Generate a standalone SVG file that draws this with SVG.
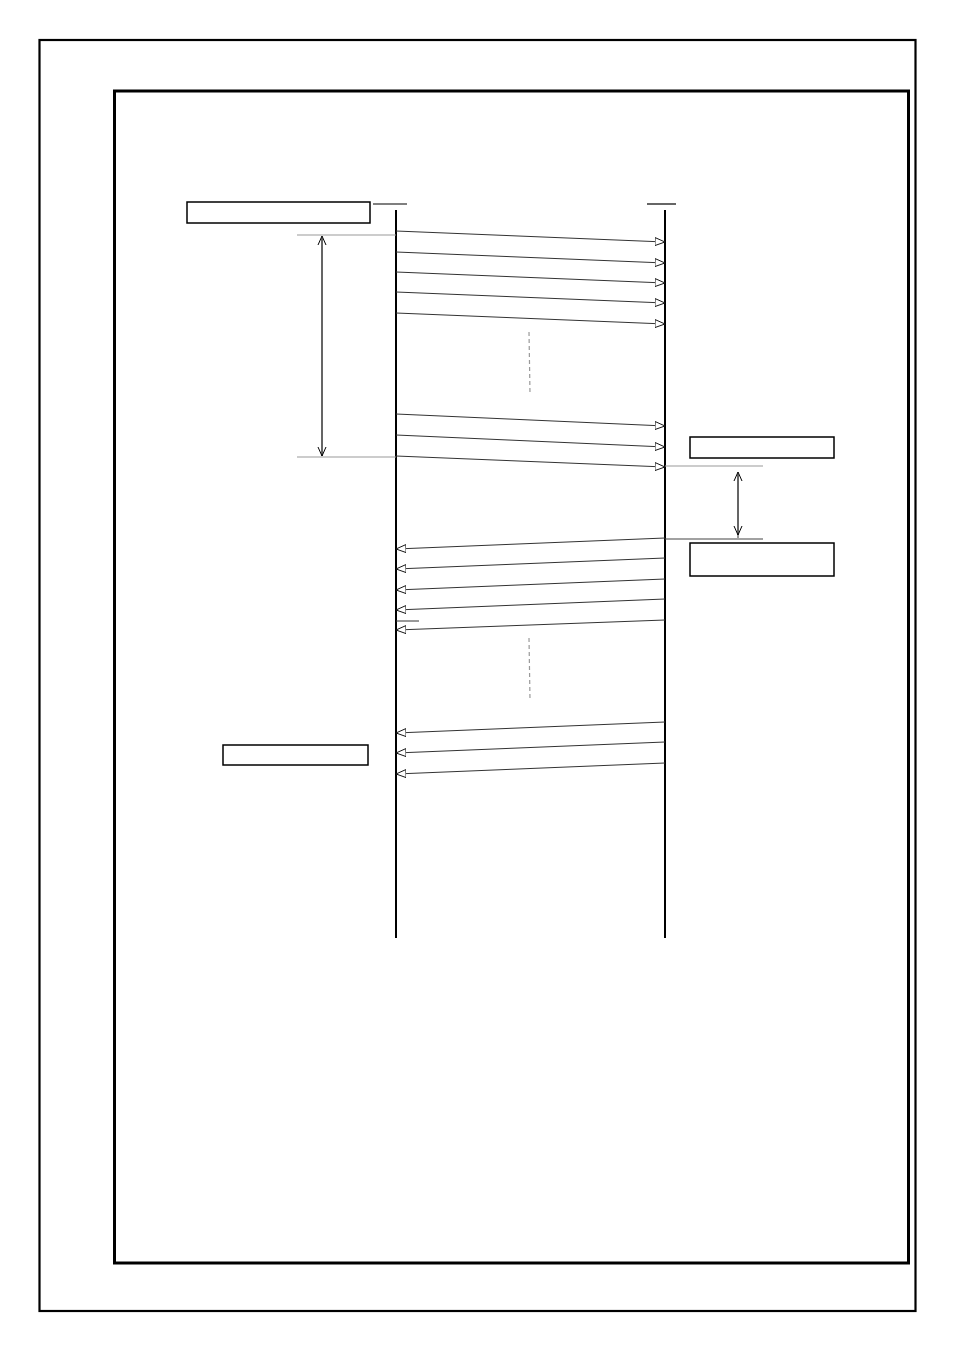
<svg xmlns="http://www.w3.org/2000/svg" width="954" height="1351" viewBox="0 0 954 1351">
<style>
.frame{fill:none;stroke:#000}
.box{fill:#fff;stroke:#000;stroke-width:1.5}
.life{stroke:#000;stroke-width:2}
.msg{stroke:#333;stroke-width:1;fill:none}
.guide{stroke:#999;stroke-width:1.2}
.dim{stroke:#333;stroke-width:1;fill:none}
.dash{stroke:#999;stroke-width:1.2;stroke-dasharray:4,3}
</style>
<defs>
<marker id="tri" markerWidth="12" markerHeight="10" refX="10" refY="5" orient="auto" markerUnits="userSpaceOnUse">
<path d="M0,1 L10,5 L0,9 Z" fill="#fff" stroke="#000" stroke-width="0.9"/>
</marker>
<marker id="open" markerWidth="12" markerHeight="10" refX="9" refY="5" orient="auto" markerUnits="userSpaceOnUse">
<path d="M0,1 L9,5 L0,9" fill="none" stroke="#000" stroke-width="1"/>
</marker>
</defs>
<rect width="954" height="1351" fill="#fff"/>
<rect class="frame" x="39.5" y="40" width="876" height="1271" stroke-width="2.2"/>
<rect class="frame" x="114.5" y="91" width="794" height="1172" stroke-width="3"/>
<g id="lifeline-left">
<line x1="373" y1="204" x2="407" y2="204" stroke="#000" stroke-width="1.2"/>
<line class="life" x1="396" y1="210" x2="396" y2="938"/>
</g>
<g id="lifeline-right">
<line x1="647" y1="204" x2="676" y2="204" stroke="#000" stroke-width="1.2"/>
<line class="life" x1="665" y1="210" x2="665" y2="938" stroke="#444"/>
</g>
<g id="box-top-left"><rect class="box" x="187" y="202" width="183" height="21"/></g>
<g id="box-right-1"><rect class="box" x="690" y="437" width="144" height="21"/></g>
<g id="box-right-2"><rect class="box" x="690" y="543" width="144" height="33"/></g>
<g id="box-bottom-left"><rect class="box" x="223" y="745" width="145" height="20"/></g>
<g id="connectors">
<line class="msg" x1="396" y1="231" x2="665" y2="242" marker-end="url(#tri)"/>
<line class="msg" x1="396" y1="252" x2="665" y2="263" marker-end="url(#tri)"/>
<line class="msg" x1="396" y1="272" x2="665" y2="283" marker-end="url(#tri)"/>
<line class="msg" x1="396" y1="292" x2="665" y2="303" marker-end="url(#tri)"/>
<line class="msg" x1="396" y1="313" x2="665" y2="324" marker-end="url(#tri)"/>
<line class="msg" x1="396" y1="414" x2="665" y2="426" marker-end="url(#tri)"/>
<line class="msg" x1="396" y1="435" x2="665" y2="447" marker-end="url(#tri)"/>
<line class="msg" x1="396" y1="456" x2="665" y2="467" marker-end="url(#tri)"/>
<line class="msg" x1="665" y1="538" x2="396" y2="549" marker-end="url(#tri)"/>
<line class="msg" x1="665" y1="558" x2="396" y2="569" marker-end="url(#tri)"/>
<line class="msg" x1="665" y1="579" x2="396" y2="590" marker-end="url(#tri)"/>
<line class="msg" x1="665" y1="599" x2="396" y2="610" marker-end="url(#tri)"/>
<line class="msg" x1="665" y1="620" x2="396" y2="630" marker-end="url(#tri)"/>
<line class="msg" x1="665" y1="722" x2="396" y2="733" marker-end="url(#tri)"/>
<line class="msg" x1="665" y1="742" x2="396" y2="753" marker-end="url(#tri)"/>
<line class="msg" x1="665" y1="763" x2="396" y2="774" marker-end="url(#tri)"/>
<line x1="396" y1="621" x2="419" y2="621" stroke="#333" stroke-width="1"/>
<line class="guide" x1="297" y1="235" x2="396" y2="235"/>
<line class="guide" x1="297" y1="457" x2="396" y2="457"/>
<line class="dim" x1="322" y1="456" x2="322" y2="236" marker-end="url(#open)"/>
<line class="dim" x1="322" y1="236" x2="322" y2="456" marker-end="url(#open)"/>
<line class="guide" x1="665" y1="466" x2="763" y2="466"/>
<line x1="665" y1="539" x2="763" y2="539" stroke="#444" stroke-width="1.2"/>
<line class="dim" x1="738" y1="538" x2="738" y2="472" marker-end="url(#open)"/>
<line class="dim" x1="738" y1="472" x2="738" y2="535" marker-end="url(#open)"/>
<line class="dash" x1="529" y1="332" x2="530" y2="394"/>
<line class="dash" x1="529" y1="638" x2="530" y2="700"/>
</g>
</svg>
